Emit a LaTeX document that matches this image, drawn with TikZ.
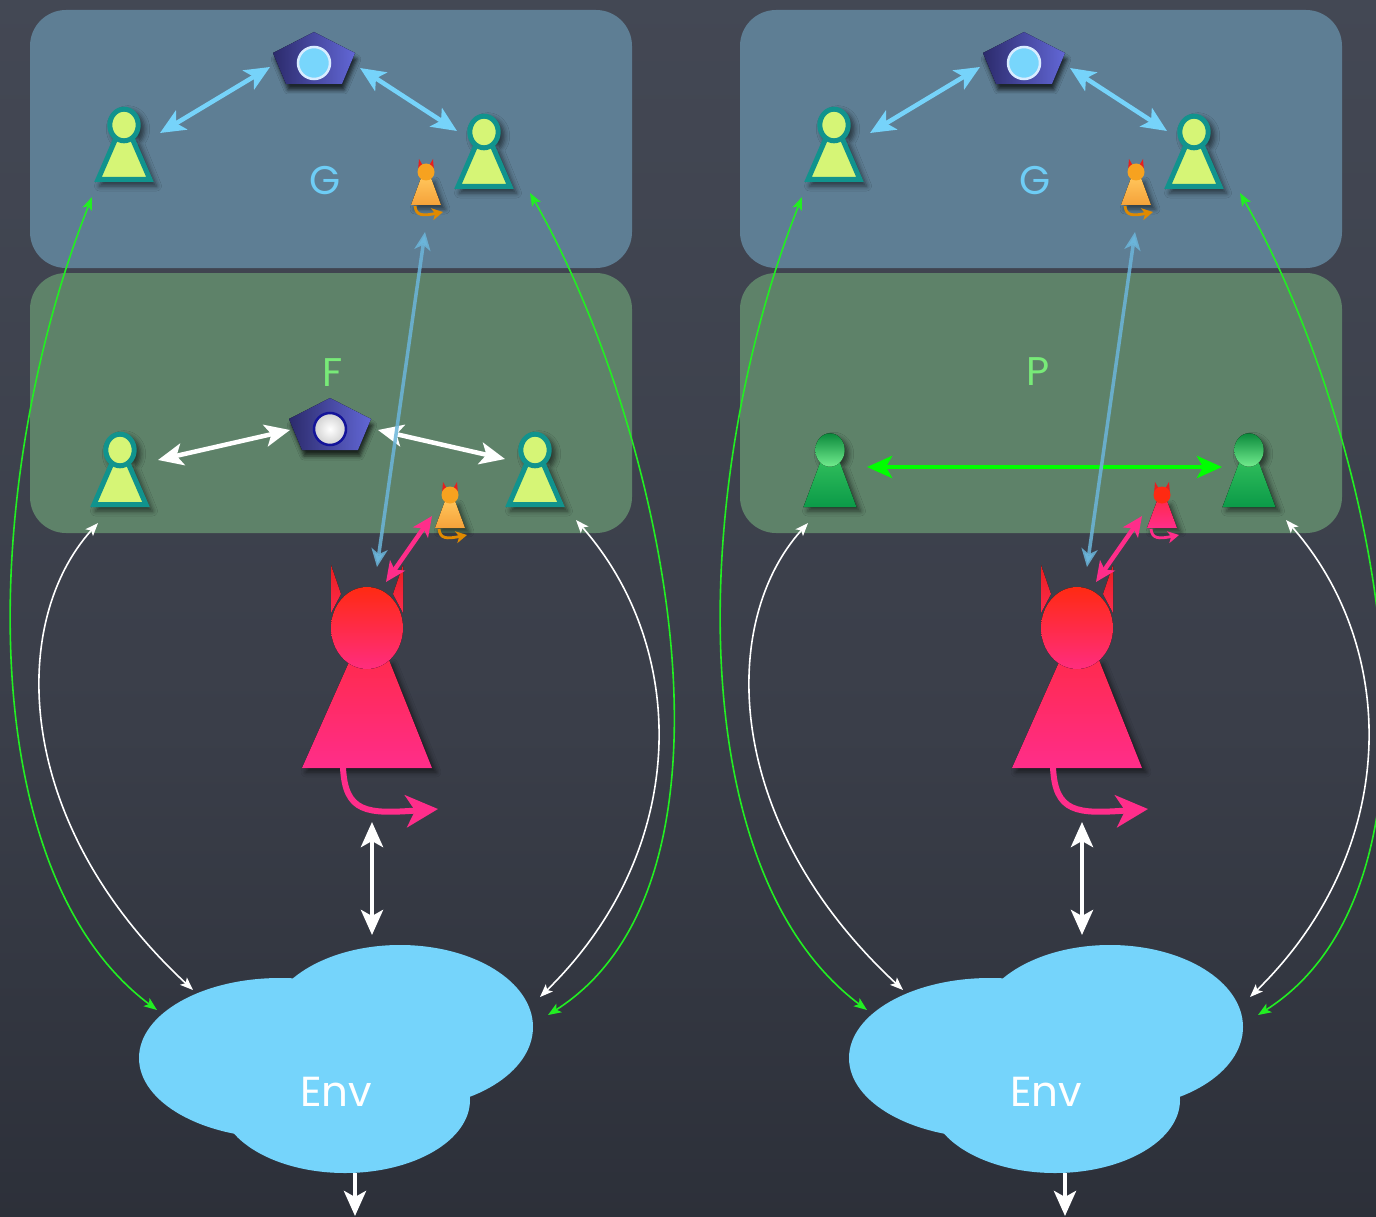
\documentclass[tikz,border=0pt]{standalone}
\usepackage{fontspec}
\newfontfamily\chalk{Poppins}
\usetikzlibrary{arrows.meta,shadows.blur}

% board and panels
\definecolor{bgtop}{HTML}{4B505D}
\definecolor{bgmid}{HTML}{3A3E49}
\definecolor{bgbot}{HTML}{1B1E25}
\definecolor{panelblue}{HTML}{5E7E94}
\definecolor{panelgreen}{HTML}{5E8269}
% players and mediators
\definecolor{pawnteal}{HTML}{11938D}
\definecolor{pawnlime}{HTML}{D6F576}
\definecolor{pawngreenA}{HTML}{2DBB5A}
\definecolor{pawngreenB}{HTML}{0B9A48}
\definecolor{pawnheadA}{HTML}{0B8A3C}
\definecolor{pawnheadB}{HTML}{72EC8E}
\definecolor{pentdark}{HTML}{2C2B6C}
\definecolor{pentlight}{HTML}{6267D6}
\definecolor{corecyan}{HTML}{78D6FC}
\definecolor{corering}{HTML}{D8ECFF}
\definecolor{corenavy}{HTML}{14149A}
% adversaries
\definecolor{hornred}{HTML}{E81E1E}
\definecolor{devilred}{HTML}{FF2A12}
\definecolor{devilpink}{HTML}{FF2D8A}
\definecolor{devilmid}{HTML}{FF2A4E}
\definecolor{impheadO}{HTML}{F7A21F}
\definecolor{impbodyOa}{HTML}{FFC45A}
\definecolor{impbodyOb}{HTML}{F5A23A}
\definecolor{imptailO}{HTML}{E08A00}
% links and labels
\definecolor{linkblue}{HTML}{76D3FA}
\definecolor{probeblue}{HTML}{6BB5DA}
\definecolor{vividgreen}{HTML}{00FF00}
\definecolor{wiregreen}{HTML}{22EE22}
\definecolor{cloudblue}{HTML}{75D4FB}
\definecolor{labelblue}{HTML}{6ECDF6}
\definecolor{labelgreen}{HTML}{78EA78}

\pgfdeclareverticalshading{board}{100bp}{color(0bp)=(bgbot); color(45bp)=(bgmid); color(100bp)=(bgtop)}

\tikzset{
  bluepanel/.style={fill=panelblue, rounded corners=36pt},
  greenpanel/.style={fill=panelgreen, rounded corners=36pt},
  soft shadow/.style={blur shadow={shadow xshift=4pt, shadow yshift=-4pt,
      shadow blur radius=5pt, shadow opacity=55}},
  deep shadow/.style={blur shadow={shadow xshift=2pt, shadow yshift=-6pt,
      shadow blur radius=4pt, shadow opacity=70}},
  bigtip/.tip={Stealth[length=25pt,width=22pt,inset=6pt]},
  midtip/.tip={Stealth[length=20pt,width=18pt,inset=5pt]},
  smalltip/.tip={Stealth[length=13pt,width=10pt,inset=3pt]},
  fat link/.style={line width=4.5pt, bigtip-bigtip},
  blue link/.style={fat link, draw=linkblue},
  white link/.style={fat link, draw=white},
  green link/.style={fat link, draw=vividgreen},
  pink link/.style={line width=4.5pt, draw=devilpink, midtip-midtip},
  probe link/.style={line width=3.5pt, draw=probeblue, draw opacity=.85,
      {Stealth[length=18pt,width=16pt,inset=5pt]}-{Stealth[length=18pt,width=16pt,inset=5pt]}},
  wire/.style={line width=1.6pt, smalltip-smalltip},
  green wire/.style={wire, draw=wiregreen},
  white wire/.style={wire, draw=white},
  gcore/.style={fill=corecyan, draw=corering, line width=2.5pt},
  fcore/.style={inner color=white, outer color=black!18, draw=corenavy, line width=2.5pt},
  letter/.style={font=\chalk\fontsize{40pt}{40pt}\selectfont, inner sep=0pt},
  pics/pawn/.style={code={
    \path[soft shadow] (-28.5,0) -- (28.5,0) -- (10,-46) -- (-10,-46) -- cycle
      (0,-57) ellipse[x radius=16.7pt, y radius=18.3pt];
    \filldraw[draw=pawnteal, fill=pawnlime, line width=5pt, line join=miter]
      (-26,-2.5) -- (26,-2.5) -- (8,-44) -- (-8,-44) -- cycle;
    \filldraw[draw=pawnteal, fill=pawnlime, line width=5pt]
      (0,-57) ellipse[x radius=14.2pt, y radius=15.8pt];
  }},
  pics/greenpawn/.style={code={
    \path[soft shadow] (-26.5,0) -- (26.5,0) -- (10,-44) -- (-10,-44) -- cycle
      (0,-57) ellipse[x radius=14.7pt, y radius=16.7pt];
    \fill[top color=pawngreenA, bottom color=pawngreenB]
      (-26.5,0) -- (26.5,0) -- (10,-44) -- (-10,-44) -- cycle;
    \fill[top color=pawnheadA, bottom color=pawnheadB]
      (0,-57) ellipse[x radius=14.7pt, y radius=16.7pt];
  }},
  pics/pentagon/.style={code={
    \fill[deep shadow, left color=pentdark, right color=pentlight]
      (0,-30) -- (41,-9) -- (28,22) -- (-28,22) -- (-41,-9) -- cycle;
    \filldraw[#1] (0,1) circle[radius=16pt];
  }},
  pics/imp/.style n args={4}{code={
    \fill[hornred] (-8,-34) -- (-7,-46) -- (-3.5,-40) -- cycle;
    \fill[hornred] (8,-34) -- (7,-46) -- (3.5,-40) -- cycle;
    \fill[soft shadow, top color=#2, bottom color=#3]
      (-15,0) -- (15,0) -- (5,-27) -- (-5,-27) -- cycle;
    \fill[#1] (0,-33) circle[radius=8.5pt];
    \draw[#4, line width=2.8pt, -{Stealth[length=11pt,width=12pt,inset=3pt]}]
      (-11,1) .. controls (-10,11) and (-3,11) .. (17,7);
  }},
  pics/devil/.style={code={
    \fill[top color=hornred, bottom color=devilmid] (-36,-63) -- (-26,-34) -- (-36,-15) -- cycle;
    \fill[top color=hornred, bottom color=devilmid] (36,-63) -- (36,-15) -- (26,-34) -- cycle;
    \fill[soft shadow, top color=devilmid, bottom color=devilpink]
      (-65,140) -- (65,140) -- (22,32) -- (-17,32) -- cycle;
    \fill[top color=devilred, bottom color=devilpink!90!devilred]
      (0,0) ellipse[x radius=36pt, y radius=41pt];
    \draw[devilpink, line width=6pt, -{Stealth[length=32pt,width=32pt,inset=9pt]}]
      (-24,139) .. controls (-22,185) and (0,186) .. (71,181);
  }},
  pics/cloud/.style={code={
    \fill[cloudblue] (-56,-34) ellipse[x radius=141pt, y radius=80pt]
      (64,-65) ellipse[x radius=133pt, y radius=82pt]
      (9,8) ellipse[x radius=125pt, y radius=73pt];
  }},
}

% The part shared by both columns: the G layer, the adversary, the environment
\newcommand\gamecolumn[1]{%
  \fill[bluepanel] (30,10) rectangle (632,268);
  \fill[greenpanel] (30,273) rectangle (632,533);
  \node[letter, text=labelblue] (#1-G) at (325,181) {G};
  \pic (#1-med) at (314,62) {pentagon=gcore};
  \pic (#1-pA) at (124,182) {pawn};
  \pic (#1-pB) at (484,189) {pawn};
  \pic (#1-imp) at (426,205) {imp={impheadO}{impbodyOa}{impbodyOb}{imptailO}};
  \coordinate (#1-ba1) at (160,133);  \coordinate (#1-ba2) at (270,67);
  \coordinate (#1-bb1) at (360,68);   \coordinate (#1-bb2) at (457,131);
  \draw[blue link] (#1-ba1) -- (#1-ba2);
  \draw[blue link] (#1-bb1) -- (#1-bb2);
  % wires between the environment and the players of both layers
  \coordinate (#1-gl1) at (92,197);   \coordinate (#1-gl2) at (157,1010);
  \coordinate (#1-wl1) at (98,523);   \coordinate (#1-wl2) at (193,990);
  \coordinate (#1-wr1) at (576,520);  \coordinate (#1-wr2) at (540,997);
  \coordinate (#1-gr1) at (530,193);  \coordinate (#1-gr2) at (548,1015);
  \draw[green wire] (#1-gl1) .. controls (-20,480) and (-30,870) .. (#1-gl2);
  \draw[white wire] (#1-wl1) .. controls (10,620) and (10,820) .. (#1-wl2);
  \draw[white wire] (#1-wr1) .. controls (690,650) and (690,850) .. (#1-wr2);
  \draw[green wire] (#1-gr1) .. controls (665,430) and (760,880) .. (#1-gr2);
  % adversary
  \pic (#1-dev) at (367,628) {devil};
  \coordinate (#1-vw1) at (372,822);  \coordinate (#1-vw2) at (372,935);
  \draw[white link] (#1-vw1) -- (#1-vw2);
  % environment
  \pic (#1-cloud) at (336,1092) {cloud};
  \node[letter, text=white, font=\chalk\fontsize{42pt}{42pt}\selectfont] (#1-env) at (336,1092) {Env};
  \coordinate (#1-out1) at (355,1173); \coordinate (#1-out2) at (355,1216);
  \draw[line width=4.5pt, white, -bigtip] (#1-out1) -- (#1-out2);
}

% links from the adversary up into the layers
\newcommand\adversarylinks[1]{%
  \coordinate (#1-pk1) at (386,582);  \coordinate (#1-pk2) at (432,516);
  \draw[pink link] (#1-pk1) -- (#1-pk2);
  \coordinate (#1-lb1) at (425,232);  \coordinate (#1-lb2) at (377,567);
  \draw[probe link] (#1-lb1) -- (#1-lb2);
}

\begin{document}
\begin{tikzpicture}[x=1pt,y=-1pt]
  \useasboundingbox (0,0) rectangle (1376,1217);
  \clip (0,0) rectangle (1376,1217);
  \shade[shading=board] (0,0) rectangle (1376,1217);

  % ---------- left column: G above F ----------
  \gamecolumn{L}
  \node[letter, text=labelgreen] (L-F) at (333,373) {F};
  \pic (L-fmed) at (330,428) {pentagon=fcore};
  \pic (L-fA) at (120,507) {pawn};
  \pic (L-fB) at (535,507) {pawn};
  \pic (L-fimp) at (450,528) {imp={impheadO}{impbodyOa}{impbodyOb}{imptailO}};
  \coordinate (L-fa1) at (158,460);  \coordinate (L-fa2) at (290,430);
  \coordinate (L-fb1) at (378,430);  \coordinate (L-fb2) at (505,459);
  \draw[white link] (L-fa1) -- (L-fa2);
  \draw[white link] (L-fb1) -- (L-fb2);
  \adversarylinks{L}

  % ---------- right column: G above P ----------
  \begin{scope}[xshift=710pt]
    \gamecolumn{R}
    \node[letter, text=labelgreen] (R-P) at (328,372) {P};
    \pic (R-pA) at (120,507) {greenpawn};
    \pic (R-pB) at (539,507) {greenpawn};
    \pic (R-pimp) at (452,528) {imp={devilred}{devilmid}{devilpink}{devilpink}};
    \coordinate (R-pa1) at (157,467);  \coordinate (R-pa2) at (512,467);
    \draw[green link] (R-pa1) -- (R-pa2);
    \adversarylinks{R}
  \end{scope}
\end{tikzpicture}
\end{document}
